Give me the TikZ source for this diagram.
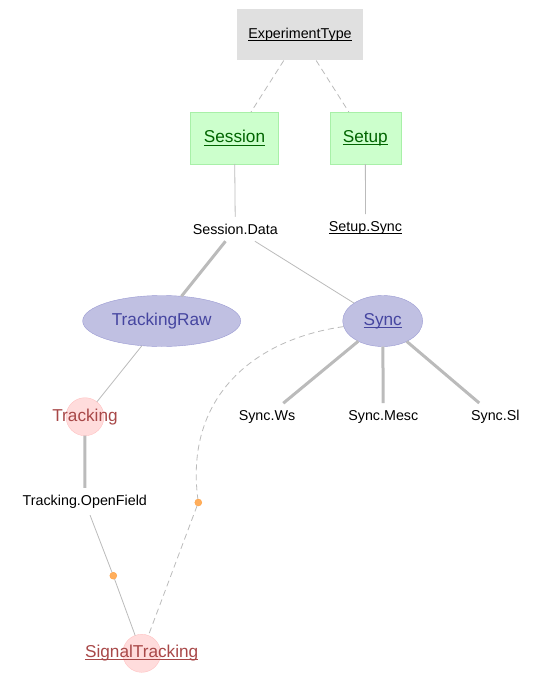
\documentclass[tikz,border=0pt]{standalone}
\usepackage{fontspec}
\setmainfont{Liberation Sans}
\usetikzlibrary{shapes.geometric}

\definecolor{lookupfill}{HTML}{E0E0E0}
\definecolor{manualfill}{HTML}{CCFFCC}
\definecolor{manualdraw}{HTML}{A8F0A8}
\definecolor{manualtext}{HTML}{006400}
\definecolor{importfill}{HTML}{C0C0E2}
\definecolor{importdraw}{HTML}{9A9AD2}
\definecolor{importtext}{HTML}{4545A0}
\definecolor{computefill}{HTML}{FFDCDC}
\definecolor{computedraw}{HTML}{FFC2C2}
\definecolor{computetext}{HTML}{A84848}
\definecolor{edgegray}{HTML}{BBBBBB}
\definecolor{dotfill}{HTML}{FFAE5C}
\definecolor{dotdraw}{HTML}{FFA040}

\newcommand{\ulbl}[1]{\setbox0\hbox{#1}\rlap{\vrule height -1.7pt depth 2.7pt width \wd0}\box0}
\newcommand{\partfont}{\fontsize{14.3}{16}\selectfont}
\newcommand{\tierfont}{\fontsize{17.2}{19}\selectfont}

\begin{document}
\begin{tikzpicture}
  [x=1pt,y=-1pt,
  lookup/.style={rectangle,fill=lookupfill,align=center,
                  outer sep=0,font=\partfont},
  manual/.style={rectangle,draw=manualdraw,fill=manualfill,text=manualtext,
                  outer sep=0,minimum height=52pt,font=\tierfont},
  imported/.style={ellipse,draw=importdraw,fill=importfill,text=importtext,
                  outer sep=0,inner sep=0,minimum height=51pt,font=\tierfont},
  computed/.style={circle,draw=computedraw,fill=computefill,text=computetext,
                  outer sep=0,inner sep=0,minimum size=38pt,font=\tierfont},
  part/.style={rectangle,inner xsep=2pt,inner ysep=7pt,outer sep=0,
                  font=\partfont},
  joint/.style={circle,draw=dotdraw,fill=dotfill,inner sep=0,
                  minimum size=7pt,outer sep=0},
  thinlink/.style={draw=edgegray,line width=0.8pt},
  thicklink/.style={draw=edgegray,line width=3pt},
  dashlink/.style={draw=edgegray,line width=0.8pt,dash pattern=on 6pt off 4pt}
                  ]
  \useasboundingbox (0,0) rectangle (537,685);

  \node[lookup,minimum width=126pt,minimum height=51pt] (exptype) at (300,35) {\ulbl{ExperimentType}};
  \node[manual,minimum width=88pt] (session) at (234.5,138) {\ulbl{Session}};
  \node[manual,minimum width=71pt] (setup) at (365.3,138) {\ulbl{Setup}};
  \node[part] (sessdata) at (235.3,229) {Session.Data};
  \node[part] (setupsync) at (365.5,227.5) {\ulbl{Setup.Sync}};
  \node[imported,minimum width=158pt] (trackraw) at (161.7,321) {TrackingRaw};
  \node[imported,minimum width=80pt] (sync) at (382.7,321) {\ulbl{Sync}};
  \node[part] (syncws) at (267,416.7) {Sync.Ws};
  \node[part] (syncmesc) at (383.3,416.7) {Sync.Mesc};
  \node[part] (syncsl) at (495.3,416.7) {Sync.Sl};
  \node[computed] (tracking) at (85,416.7) {\makebox[0pt]{Tracking}};
  \node[part] (openfield) at (84.8,501.5) {Tracking.OpenField};
  \node[joint] (dot1) at (113.3,575.7) {};
  \node[joint] (dot2) at (198.3,502.5) {};
  \node[computed] (sigtrack) at (141.7,653.3) {\makebox[0pt]{\ulbl{SignalTracking}}};

  \draw[dashlink] (exptype) to (session);
  \draw[dashlink] (exptype) to (setup);
  \draw[thinlink] (session) to (sessdata);
  \draw[thinlink] (setup) to (setupsync);
  \draw[thicklink] (sessdata) to (trackraw);
  \draw[thinlink] (sessdata) to (sync);
  \draw[thicklink] (sync) to (syncws);
  \draw[thicklink] (sync) to (syncmesc);
  \draw[thicklink] (sync) to (syncsl);
  \draw[thinlink] (trackraw) to (tracking);
  \draw[thicklink] (tracking) to (openfield);
  \draw[thinlink] (openfield) to (dot1);
  \draw[thinlink] (dot1) to (sigtrack);
  \draw[dashlink] (sync) .. controls (250,340) and (185,400) .. (dot2);
  \draw[dashlink] (dot2) to (sigtrack);
\end{tikzpicture}
\end{document}
